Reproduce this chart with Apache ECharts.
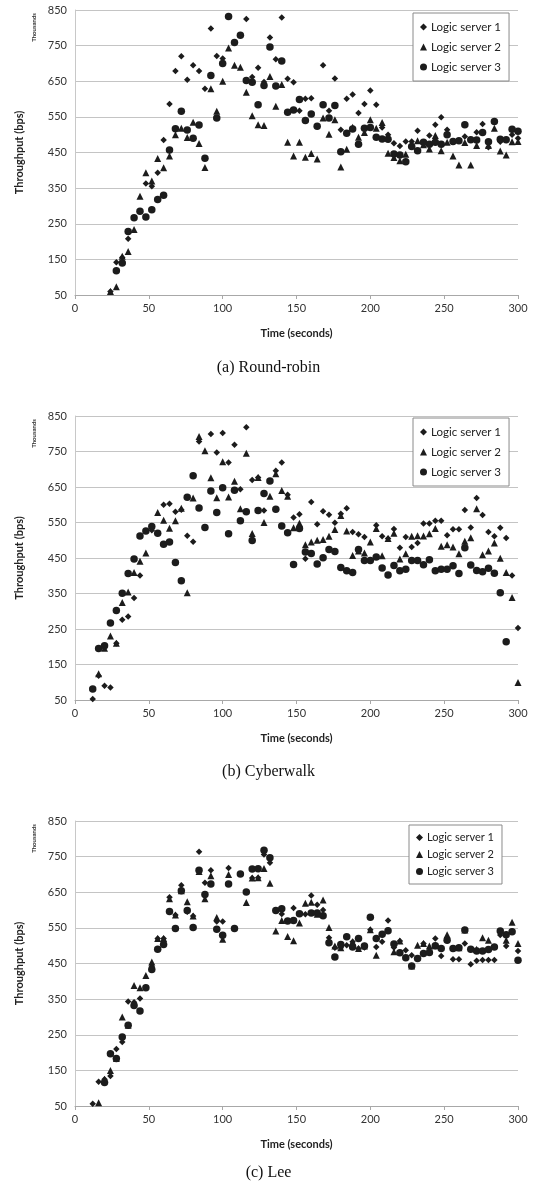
<!DOCTYPE html>
<html><head><meta charset="utf-8">
<script src="https://cdn.jsdelivr.net/npm/echarts@6/dist/echarts.min.js"></script>
<style>html,body{margin:0;padding:0;background:#fff}#c{width:537px;height:1191px}</style>
</head><body><div id="c"></div>
<script>
// ---- Data: [time (s), throughput (thousand bps)] ----
const seriesNames = ['Logic server 1','Logic server 2','Logic server 3'];
const captions = ['(a) Round-robin','(b) Cyberwalk','(c) Lee'];
const xTicks = [0,50,100,150,200,250,300];
const yTicks = [50,150,250,350,450,550,650,750,850];

const rrS1 = [[24,60],[28,142],[32,155],[36,208],[48,363],[52,355],[56,393],[60,485],[64,586],[68,679],[72,720],[76,654],[80,695],[84,679],[88,629],[92,798],[96,721],[100,714],[116,825],[120,662],[124,688],[128,648],[132,773],[136,712],[140,829],[144,657],[148,647],[152,567],[156,601],[160,602],[168,695],[172,567],[176,658],[180,514],[184,601],[188,613],[192,561],[196,586],[200,624],[204,584],[208,520],[212,500],[216,476],[220,468],[224,481],[228,481],[232,511],[236,479],[240,498],[244,528],[248,549],[252,514],[264,495],[268,486],[272,507],[276,530],[280,465],[288,480],[292,485],[296,500],[300,490]];
const rrS2 = [[24,60],[28,73],[32,159],[36,172],[40,234],[44,327],[48,393],[52,370],[56,433],[60,407],[64,440],[68,500],[72,518],[76,492],[80,535],[84,475],[88,408],[92,629],[96,566],[100,650],[104,743],[108,695],[112,689],[116,619],[120,553],[124,528],[128,526],[132,663],[136,580],[140,641],[144,479],[148,440],[152,479],[156,437],[160,447],[164,432],[168,547],[172,501],[176,542],[180,409],[184,459],[188,521],[192,493],[196,506],[200,542],[204,518],[208,534],[212,448],[216,436],[220,427],[224,445],[228,473],[232,483],[236,472],[240,460],[244,498],[248,455],[252,479],[256,440],[260,415],[264,478],[268,415],[272,470],[280,470],[284,518],[288,454],[292,443],[296,480],[300,481]];
const rrS3 = [[28,118],[32,140],[36,228],[40,267],[44,285],[48,269],[52,289],[56,318],[60,330],[64,457],[68,517],[72,566],[76,513],[80,490],[84,527],[88,434],[92,666],[96,547],[100,700],[104,832],[108,759],[112,779],[116,652],[120,647],[124,584],[128,638],[132,746],[136,637],[140,707],[144,563],[148,569],[152,599],[156,540],[160,558],[164,524],[168,584],[172,547],[176,582],[180,452],[184,504],[188,516],[192,473],[196,518],[200,520],[204,493],[208,488],[212,487],[216,446],[220,443],[224,424],[228,467],[232,455],[236,479],[240,473],[244,479],[248,473],[252,500],[256,481],[260,483],[264,528],[268,486],[272,485],[276,506],[280,480],[284,537],[288,487],[292,486],[296,515],[300,510]];

const cwS1 = [[12,53],[16,118],[20,90],[24,85],[28,210],[32,276],[36,285],[40,337],[44,401],[52,528],[60,600],[64,603],[68,580],[72,586],[76,513],[80,496],[84,778],[92,799],[96,747],[100,802],[104,719],[108,769],[112,644],[116,818],[120,670],[124,677],[128,584],[136,696],[140,719],[144,628],[148,564],[152,573],[156,448],[160,608],[164,545],[168,582],[172,572],[176,549],[180,575],[184,590],[188,523],[192,517],[196,509],[204,542],[208,511],[212,505],[216,532],[220,479],[224,509],[228,481],[232,492],[236,547],[240,547],[244,555],[248,555],[252,514],[256,531],[260,531],[264,585],[268,536],[272,619],[276,571],[280,523],[284,511],[288,535],[292,506],[296,401],[300,253]];
const cwS2 = [[16,124],[20,196],[24,230],[28,210],[32,325],[36,354],[40,409],[44,441],[48,464],[56,578],[60,556],[64,534],[68,555],[72,590],[76,352],[80,619],[84,792],[88,752],[92,676],[96,620],[100,721],[104,622],[108,666],[112,589],[116,745],[120,519],[124,677],[128,550],[132,624],[136,687],[140,640],[144,624],[148,535],[152,548],[156,487],[160,495],[164,500],[168,502],[172,511],[176,530],[180,570],[184,526],[188,457],[192,470],[196,464],[200,495],[204,533],[208,456],[212,505],[216,520],[220,447],[224,462],[228,511],[232,513],[236,512],[240,518],[244,533],[248,483],[252,487],[256,481],[260,462],[264,497],[268,507],[272,589],[276,459],[280,470],[284,492],[288,449],[292,409],[296,339],[300,99]];
const cwS3 = [[12,81],[16,195],[20,203],[24,267],[28,302],[32,351],[36,406],[40,447],[44,512],[48,526],[52,539],[56,520],[60,489],[64,495],[68,437],[72,386],[76,621],[80,682],[84,591],[88,536],[92,639],[96,578],[100,648],[104,518],[108,641],[112,555],[116,580],[120,499],[124,584],[128,632],[132,667],[136,587],[140,540],[144,521],[148,432],[152,533],[156,467],[160,463],[164,433],[168,451],[172,474],[176,468],[180,423],[184,414],[188,409],[192,474],[196,443],[200,443],[204,453],[208,422],[212,402],[216,429],[220,414],[224,418],[228,443],[232,443],[236,431],[240,445],[244,414],[248,418],[252,418],[256,428],[260,406],[264,479],[268,430],[272,415],[276,411],[280,421],[284,407],[288,352],[292,214]];

const leeS1 = [[12,56],[16,118],[20,125],[24,134],[28,210],[32,230],[36,343],[40,341],[44,352],[48,382],[52,442],[56,520],[60,520],[64,636],[68,586],[72,670],[76,595],[80,583],[84,764],[88,677],[92,712],[96,568],[100,568],[104,718],[120,690],[124,691],[128,756],[132,733],[140,589],[148,606],[156,588],[160,641],[164,615],[168,600],[172,522],[176,494],[180,494],[184,501],[188,511],[192,492],[196,495],[200,545],[204,496],[208,511],[212,571],[216,495],[220,513],[224,487],[228,473],[236,506],[244,520],[248,471],[252,515],[256,462],[260,462],[264,506],[268,448],[272,458],[276,460],[280,460],[284,460],[288,530],[292,499],[300,485]];
const leeS2 = [[16,59],[20,125],[24,150],[28,183],[32,300],[36,277],[40,388],[44,382],[48,416],[52,454],[56,520],[60,520],[64,632],[68,586],[72,654],[76,623],[80,583],[84,708],[88,632],[92,696],[96,579],[100,518],[104,700],[116,621],[120,690],[124,691],[128,717],[132,675],[136,541],[140,571],[144,526],[148,514],[152,564],[156,619],[160,622],[164,588],[168,628],[172,551],[176,499],[180,494],[188,511],[192,492],[196,499],[200,545],[204,473],[216,483],[220,513],[228,443],[232,501],[236,506],[240,499],[244,500],[252,531],[260,494],[264,544],[272,490],[276,522],[280,515],[292,515],[296,566],[300,506]];
const leeS3 = [[20,116],[24,197],[28,183],[32,244],[36,277],[40,332],[44,317],[48,382],[52,433],[56,490],[60,503],[64,596],[68,548],[72,654],[76,599],[80,551],[84,712],[88,644],[92,673],[96,546],[100,529],[104,673],[108,548],[112,701],[116,651],[120,715],[124,716],[128,768],[132,747],[136,599],[140,604],[144,569],[148,571],[152,590],[160,592],[164,592],[168,584],[172,508],[176,468],[180,503],[184,525],[188,496],[192,520],[196,499],[200,580],[204,520],[208,532],[212,542],[216,505],[220,480],[224,466],[228,443],[232,464],[236,478],[240,481],[244,500],[248,492],[252,515],[256,492],[260,494],[264,544],[268,490],[272,485],[276,485],[280,489],[284,496],[288,541],[292,531],[296,539],[300,459]];

const panels = [[rrS1,rrS2,rrS3],[cwS1,cwS2,cwS3],[leeS1,leeS2,leeS3]];

// ---- Build chart ----
const Y0 = yTicks[0];               // axis starts at 50; shift so ticks fall on multiples of the interval
const tops = [10, 416, 821];
const heights = [285, 284, 285];
const captionTops = [360, 764, 1165];
const legendBoxes = [{left:413, top:13, gap:8, pad:8}, {left:413, top:418, gap:8, pad:8}, {left:409, top:825, gap:6, pad:7}];
const symbols = ['diamond','triangle','circle'];
const sizes = [6.5, 7, 7.5];
const ink = '#1c1c1c';
const sans = 'Lato, "Open Sans", sans-serif';

const grid=[], xAxis=[], yAxis=[], series=[], legend=[], graphic=[];
panels.forEach((p, i) => {
  grid.push({left:75, width:443, top:tops[i], height:heights[i]});
  xAxis.push({
    gridIndex:i, type:'value', min:xTicks[0], max:xTicks[xTicks.length-1], interval:50,
    name:'Time (seconds)', nameLocation:'middle', nameGap:33,
    nameTextStyle:{fontFamily:sans, fontWeight:'bold', fontSize:11, color:'#222'},
    axisLine:{show:true, lineStyle:{color:'#a8a8a8'}},
    axisTick:{show:true, length:4, lineStyle:{color:'#a8a8a8'}},
    axisLabel:{fontFamily:sans, fontSize:11, color:'#333', margin:8},
    splitLine:{show:false}
  });
  yAxis.push({
    gridIndex:i, type:'value', min:0, max:yTicks[yTicks.length-1]-Y0, interval:100,
    name:'Throughput (bps)', nameLocation:'middle', nameGap:50, nameRotate:90,
    nameTextStyle:{fontFamily:sans, fontWeight:'bold', fontSize:11, color:'#222'},
    axisLine:{show:true, lineStyle:{color:'#c8c8c8'}},
    axisTick:{show:false},
    axisLabel:{fontFamily:sans, fontSize:11, color:'#333', margin:8, formatter:v => String(v + Y0)},
    splitLine:{show:true, lineStyle:{color:'#c4c4c4', width:1}}
  });
  p.forEach((data, k) => {
    series.push({
      type:'scatter', name:seriesNames[k], xAxisIndex:i, yAxisIndex:i,
      symbol:symbols[k], symbolSize:sizes[k],
      itemStyle:{color:ink, opacity:1},
      data:data.map(d => [d[0], d[1] - Y0]),
      silent:true, animation:false
    });
  });
  const lb = legendBoxes[i];
  legend.push({
    data:seriesNames, orient:'vertical', left:lb.left, top:lb.top,
    itemWidth:7, itemHeight:7, itemGap:lb.gap,
    padding:[lb.pad,8,lb.pad,7], borderColor:'#8a8a8a', borderWidth:1, backgroundColor:'#fff',
    textStyle:{fontFamily:sans, fontSize:i===2?11:11.5, color:'#222', padding:[0,0,0,-1]},
    selectedMode:false
  });
  graphic.push({
    type:'text', left:31, top:tops[i]+3, rotation:Math.PI/2,
    style:{text:'Thousands', font:'bold 6px '+sans, fill:'#333'}
  });
  graphic.push({
    type:'text', left:'center', top:captionTops[i],
    style:{text:captions[i], font:'16px "Liberation Serif", "DejaVu Serif", serif', fill:'#111'}
  });
});

const chart = echarts.init(document.getElementById('c'), null, {renderer:'canvas'});
chart.setOption({animation:false, grid, xAxis, yAxis, series, legend, graphic});
</script></body></html>
